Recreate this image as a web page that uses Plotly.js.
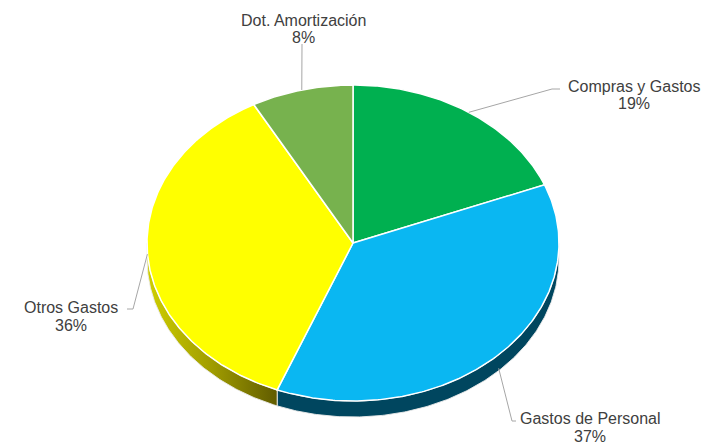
<!DOCTYPE html>
<html>
<head>
<meta charset="utf-8">
<script src="https://cdn.plot.ly/plotly-3.0.1.min.js"></script>
<style>html,body{margin:0;padding:0;background:#fff;}#chart{width:706px;height:444px;}</style>
</head>
<body>
<div id="chart"></div>
<script>
// ---- data ----
const categories = ['Compras y Gastos', 'Gastos de Personal', 'Otros Gastos', 'Dot. Amortización'];
const values = [19, 37, 36, 8];
const percentLabels = ['19%', '37%', '36%', '8%'];

// ---- styles ----
const topColors = ['#00B050', '#0AB7F2', '#FFFF00', '#77B24E'];
const sideColors = ['#005A28', '#00465F', '#A0A000', '#3C5A27'];
const sideGradients = [null, null, [[0, '#CFCF00'], [0.5, '#A09C00'], [1, '#605B00']], null];
const cx = 353, cy = 243, rx = 206, ry = 158, depth = 16;
const labelPos = [
  {x: 634, y1: 86, y2: 103, ex: [[552, 89], [560, 89]]},
  {x: 590, y1: 418, y2: 436, ex: [[512, 421], [516, 421]]},
  {x: 71, y1: 307, y2: 325, ex: [[133, 309], [127, 309]]},
  {x: 303, y1: 20, y2: 37, ex: [[302, 44]]}
];
const labelFont = {family: 'Liberation Sans, Arial, sans-serif', size: 16, color: '#404040'};

function pt(theta, dy) {
  return [cx + rx * Math.sin(theta), cy - ry * Math.cos(theta) + (dy || 0)];
}
function arc(a0, a1, dy) {
  const n = Math.max(2, Math.ceil(Math.abs(a1 - a0) / 0.01));
  const out = [];
  for (let i = 0; i <= n; i++) out.push(pt(a0 + (a1 - a0) * i / n, dy));
  return out;
}

const total = values.reduce((a, b) => a + b, 0);
const traces = [];
const annotations = [];
let cum = 0;
const slices = values.map(v => {
  const a0 = cum / total * 2 * Math.PI;
  cum += v;
  const a1 = cum / total * 2 * Math.PI;
  return [a0, a1];
});

// side walls (front-facing only)
slices.forEach(([a0, a1], i) => {
  const s0 = Math.max(a0, Math.PI / 2), s1 = Math.min(a1, 3 * Math.PI / 2);
  if (s1 <= s0) return;
  const pts = arc(s0, s1, 0).concat(arc(s1, s0, depth));
  pts.push(pts[0]);
  const tr = {
    type: 'scatter', mode: 'lines', hoverinfo: 'skip', showlegend: false,
    x: pts.map(p => p[0]), y: pts.map(p => p[1]),
    fill: 'toself', fillcolor: sideColors[i],
    line: {color: 'rgba(235,235,235,0.9)', width: 1}
  };
  if (sideGradients[i]) tr.fillgradient = {type: 'horizontal', colorscale: sideGradients[i]};
  traces.push(tr);
});

// top faces
slices.forEach(([a0, a1], i) => {
  const pts = [[cx, cy]].concat(arc(a0, a1, 0));
  pts.push([cx, cy]);
  traces.push({
    type: 'scatter', mode: 'lines', hoverinfo: 'skip', showlegend: false,
    x: pts.map(p => p[0]), y: pts.map(p => p[1]),
    fill: 'toself', fillcolor: topColors[i],
    line: {color: '#FFFFFF', width: 1.5}
  });
});

// leader lines + labels
slices.forEach(([a0, a1], i) => {
  const mid = (a0 + a1) / 2;
  const front = Math.cos(mid) < 0;
  const anchor = pt(mid, front ? depth * Math.min(1, -Math.cos(mid) * 1.2) : 0);
  const pts = [anchor].concat(labelPos[i].ex);
  traces.push({
    type: 'scatter', mode: 'lines', hoverinfo: 'skip', showlegend: false,
    x: pts.map(p => p[0]), y: pts.map(p => p[1]),
    line: {color: '#A6A6A6', width: 1}
  });
  annotations.push({
    x: labelPos[i].x, y: labelPos[i].y1, xref: 'x', yref: 'y',
    text: categories[i], showarrow: false, align: 'center', font: labelFont
  });
  annotations.push({
    x: labelPos[i].x, y: labelPos[i].y2, xref: 'x', yref: 'y',
    text: percentLabels[i], showarrow: false, align: 'center', font: labelFont
  });
});

const layout = {
  width: 706, height: 444,
  margin: {l: 0, r: 0, t: 0, b: 0},
  paper_bgcolor: '#FFFFFF', plot_bgcolor: '#FFFFFF',
  xaxis: {range: [0, 706], visible: false, fixedrange: true},
  yaxis: {range: [444, 0], visible: false, fixedrange: true},
  annotations: annotations,
  showlegend: false
};
Plotly.newPlot('chart', traces, layout, {displayModeBar: false, staticPlot: true});
</script>
</body>
</html>
